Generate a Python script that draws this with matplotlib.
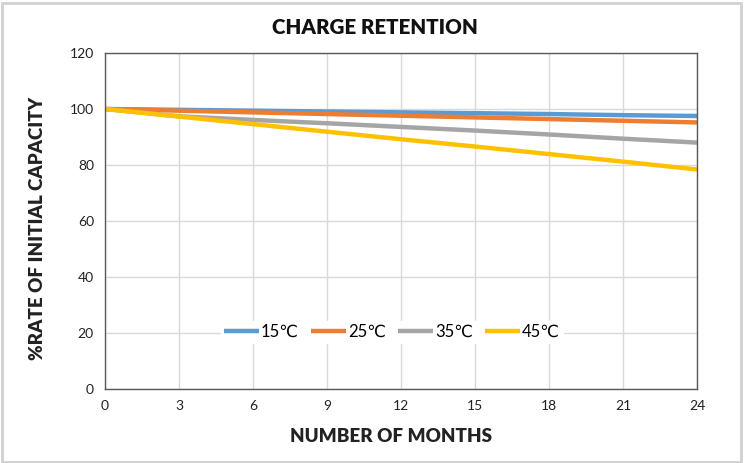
import matplotlib
matplotlib.use("Agg")
import matplotlib.pyplot as plt
from matplotlib.patches import Rectangle

months = [0, 3, 6, 9, 12, 15, 18, 21, 24]
s15 = [100, 99.7, 99.4, 99.1, 98.8, 98.5, 98.2, 97.8, 97.5]
s25 = [100, 99.4, 98.8, 98.2, 97.6, 97.0, 96.4, 95.8, 95.2]
s35 = [100, 97.4, 96.1, 94.9, 93.6, 92.3, 90.9, 89.4, 88.0]
s45 = [100, 97.3, 94.6, 91.9, 89.2, 86.6, 83.9, 81.2, 78.4]
labels = ["15\u2103", "25\u2103", "35\u2103", "45\u2103"]
colors = ["#5B9BD5", "#ED7D31", "#A5A5A5", "#FFC000"]
xticks = [0, 3, 6, 9, 12, 15, 18, 21, 24]
yticks = [0, 20, 40, 60, 80, 100, 120]

plt.rcParams['font.family'] = ['Lato', 'DejaVu Sans']

fig = plt.figure(figsize=(7.46, 4.63), dpi=100)
ax = fig.add_axes([105/746, 1-389/463, (697-105)/746, (389-53)/463])

for ys, lab, c in zip([s15, s25, s35, s45], labels, colors):
    ax.plot(months, ys, color=c, lw=3.2, label=lab, solid_capstyle='butt')

ax.set_xlim(0, 24)
ax.set_ylim(0, 120)
ax.set_xticks(xticks)
ax.set_yticks(yticks)
ax.grid(True, color="#D9D9D9", lw=1)
ax.set_axisbelow(True)
ax.tick_params(length=0, labelsize=10, colors="#222222", pad=8)
for sp in ax.spines.values():
    sp.set_color("#595959")
    sp.set_linewidth(1)

fig.text(375/746, 1-27/463, "CHARGE RETENTION", ha="center", va="center",
         fontsize=14.8, fontweight="heavy", color="#111111")
fig.text(391/746, 1-437/463, "NUMBER OF MONTHS", ha="center", va="center",
         fontsize=13.5, fontweight="heavy", color="#222222")
fig.text(38/746, 1-228/463, "%RATE OF INITIAL CAPACITY", ha="center", va="center",
         rotation=90, fontsize=13.5, fontweight="heavy", color="#222222")

leg = ax.legend(loc="center", bbox_to_anchor=((392-105)/592, 0.17), ncol=4, frameon=True,
                fontsize=12, handlelength=2.1, handletextpad=0.1, columnspacing=0.75,
                borderpad=0.2)
leg.get_frame().set_edgecolor("white")
leg.get_frame().set_facecolor("white")
leg.get_frame().set_alpha(1)

fig.patches.append(Rectangle((0.003, 0.003), 0.99, 0.99, transform=fig.transFigure,
                             fill=False, edgecolor="#D0D0D0", lw=2))

fig.savefig("out.png", dpi=100)
